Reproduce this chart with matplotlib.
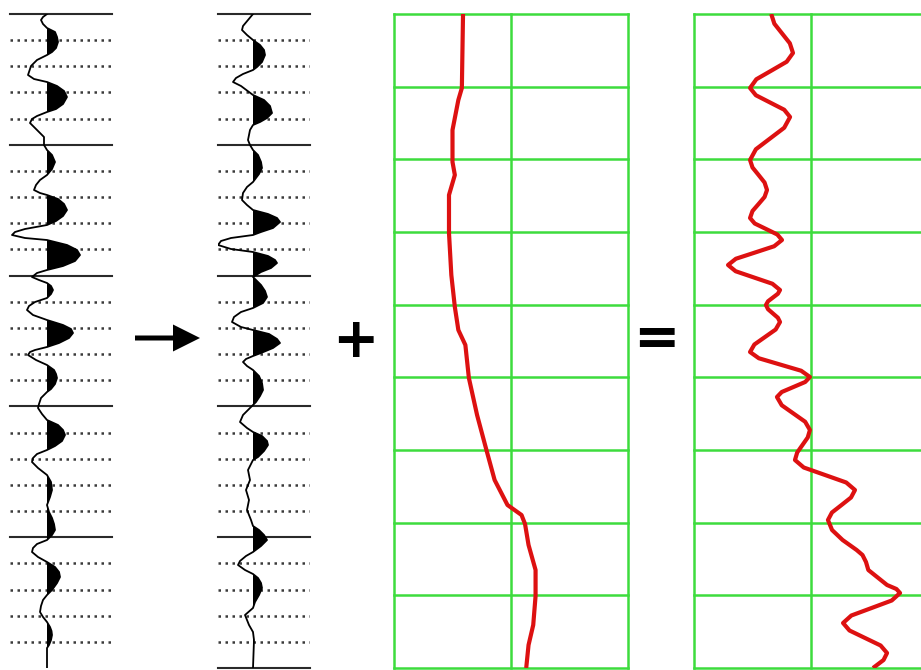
import matplotlib.pyplot as plt
from matplotlib.patches import FancyArrow
import numpy as np

# seismic trace 1 (time in ms, amplitude)
trace1_time = [0, 3, 6, 10, 14, 18, 23, 28, 34, 38, 41, 46, 52, 61, 65, 68, 72, 77, 83, 90, 95, 98,
               102, 105, 109, 116, 123, 131, 136, 141, 148, 155, 161, 166, 171, 176, 179, 181, 185,
               190, 196, 202, 207, 211, 215, 218, 221, 224, 226, 231, 236, 241, 247, 252, 256, 259,
               263, 266, 269, 272, 276, 280, 284, 288, 292, 296, 301, 306, 311, 315, 319, 324, 329,
               333, 336, 338, 341, 346, 351, 356, 360, 364, 370, 375, 378, 384, 390, 394, 400, 406,
               411, 416, 421, 427, 432, 436, 440, 444, 448, 454, 461, 468, 476, 483, 491, 498, 504,
               510, 516, 521, 526, 530, 534, 538, 543, 548, 553, 558, 563, 569, 576, 581, 586, 592,
               598, 603, 608, 613, 617, 621, 626, 631, 634, 654]
trace1_amp = [0, -4, -6, -4, 0, 8, 10, 11, 9, 5, 0, -10, -16, -19, -13, 0, 10, 17, 20, 16, 9, 0,
              -10, -15, -17, -10, -3, -3, 0, 5, 8, 5, 0, -7, -11, -13, -7, 0, 11, 17, 20, 16, 9, 0,
              -22, -32, -35, -22, 0, 20, 30, 33, 28, 16, 0, -10, -15, -8, 0, 4, 6, 4, 0, -12, -18,
              -20, -14, 0, 16, 24, 26, 22, 12, 0, -12, -17, -19, -11, 0, 7, 9, 10, 8, 4, 0, -6, -8,
              -9, -5, 0, 11, 16, 18, 15, 8, 0, -10, -14, -15, -9, 0, 4, 5, 3, 0, 2, 5, 7, 8, 5, 0,
              -10, -14, -15, -9, 0, 8, 12, 13, 10, 5, 0, -4, -6, -7, -4, 0, 3, 4.5, 5, 4, 2, 0, 0]

# seismic trace 2 (after filtering)
trace2_time = [0, 6, 12, 16, 21, 26, 31, 36, 41, 48, 53, 56, 60, 64, 68, 72, 81, 86, 92, 99, 104,
               108, 111, 116, 126, 131, 136, 141, 148, 154, 160, 168, 173, 179, 186, 191, 196, 200,
               204, 208, 214, 218, 221, 224, 227, 231, 235, 238, 242, 246, 249, 254, 258, 263, 266,
               271, 277, 283, 289, 294, 298, 303, 308, 313, 316, 320, 325, 329, 334, 339, 342, 345,
               348, 352, 356, 362, 369, 376, 382, 388, 394, 401, 408, 414, 418, 422, 427, 431, 437,
               443, 446, 456, 466, 476, 486, 496, 506, 512, 516, 521, 526, 532, 538, 542, 547, 551,
               556, 560, 564, 569, 574, 581, 588, 594, 601, 611, 618, 626, 654]
trace2_amp = [0, -5, -10, -11, -6, 0, 7, 11, 12, 9, 4, 0, -10, -17, -20, -12, 0, 11, 17, 19, 14,
              7, 0, -3, -5, -3, 0, 5, 8, 9, 6, 0, -6, -10, -11, -6, 0, 15, 24, 27, 20, 8, 0, -22,
              -32, -35, -22, 0, 15, 22, 24, 18, 8, 0, 3, 8, 12, 14, 10, 0, -12, -19, -21, -12, 0,
              16, 24, 27, 20, 8, 0, -7, -10, -6, 0, 6, 9, 10, 7, 3, -3, -10, -13, -6, 0, 9, 14, 15,
              11, 5, 0, -5, -3, -7, -4, -6, -2, 0, 6, 11, 14, 8, 0, -7, -13, -15, -8, 0, 5, 8, 9, 6,
              2, 0, -8, -4, 0, 1, 0]

# low frequency trend
trend_time = [0, 74, 86, 116, 148, 161, 181, 219, 261, 293, 316, 331, 364, 401, 436, 466, 491,
              501, 510, 531, 556, 582, 611, 631, 654]
trend_value = [0.59, 0.58, 0.55, 0.50, 0.50, 0.52, 0.47, 0.47, 0.49, 0.52, 0.55, 0.61, 0.64, 0.71,
               0.79, 0.86, 0.97, 1.09, 1.12, 1.15, 1.21, 1.21, 1.19, 1.15, 1.13]

# sum of trend and filtered trace
sum_time = [0, 9.75, 19.5, 29.25, 39, 47.75, 56.5, 65.25, 74, 81.25, 88.5, 95.75, 103, 113.75,
            124.5, 135.25, 146, 153.5, 161, 168.5, 176, 183, 190, 197, 204, 209.5, 215, 220.5,
            226, 232.25, 238.5, 244.75, 251, 257.25, 263.5, 269.75, 276, 279.75, 283.5, 287.25,
            291, 295.25, 299.5, 303.75, 308, 315.5, 323, 330.5, 338, 344.25, 350.5, 356.75, 363,
            368, 373, 378, 383, 391.25, 399.5, 407.75, 416, 423.5, 431, 438.5, 446, 453.5, 461,
            468.5, 476, 483.5, 491, 498.5, 506, 516, 526, 536, 541, 548, 556, 571, 575, 579,
            586.5, 594, 601.5, 609, 616.5, 624, 631.5, 639, 646, 654]
sum_value = [0.66, 0.687, 0.753, 0.819, 0.846, 0.792, 0.663, 0.533, 0.479, 0.529, 0.650, 0.771,
             0.821, 0.771, 0.650, 0.529, 0.479, 0.500, 0.552, 0.603, 0.624, 0.603, 0.552, 0.500,
             0.479, 0.519, 0.616, 0.712, 0.752, 0.685, 0.522, 0.358, 0.291, 0.356, 0.513, 0.670,
             0.735, 0.717, 0.675, 0.633, 0.615, 0.633, 0.675, 0.717, 0.735, 0.698, 0.607, 0.516,
             0.479, 0.554, 0.735, 0.916, 0.991, 0.950, 0.850, 0.750, 0.709, 0.750, 0.850, 0.950,
             0.991, 0.972, 0.927, 0.882, 0.863, 0.938, 1.120, 1.301, 1.376, 1.342, 1.261, 1.179,
             1.145, 1.18, 1.27, 1.39, 1.44, 1.47, 1.49, 1.65, 1.73, 1.761, 1.690, 1.518, 1.345,
             1.274, 1.329, 1.462, 1.595, 1.650, 1.62, 1.53]

W, H = 921, 670
fig = plt.figure(figsize=(W / 100, H / 100), dpi=100)
fig.patch.set_facecolor('white')

def px_axes(x0, x1, y0, y1):
    return fig.add_axes([x0 / W, (H - y1) / H, (x1 - x0) / W, (y1 - y0) / H])

tmax = 654
solid_t = np.linspace(0, tmax, 6)
dot_t = [k * tmax / 25 for k in range(1, 25) if k % 5 != 0]

def draw_trace(ax, t, a, left, right, bottom_line):
    for y in dot_t:
        ax.plot([left, right], [y, y], color='#3a3a3a', lw=1.8, ls=(0, (1, 1.8)),
                solid_capstyle='butt', dash_capstyle='butt', zorder=1)
    lines = solid_t if bottom_line else solid_t[:-1]
    for y in lines:
        ax.plot([left, right], [y, y], color='#2a2a2a', lw=1.5, zorder=2, clip_on=False)
    t = np.array(t, float)
    a = np.array(a, float)
    ax.fill_betweenx(t, 0, a, where=a > 0, interpolate=True, color='black', lw=0, zorder=3)
    ax.plot(a, t, color='black', lw=1.3, zorder=4, solid_joinstyle='round')
    ax.set_xlim(left, right)
    ax.set_ylim(tmax, 0)
    ax.axis('off')

ax1 = px_axes(10, 112, 14, 668)
draw_trace(ax1, trace1_time, trace1_amp, -37, 65, False)
ax2 = px_axes(218, 310, 14, 668)
draw_trace(ax2, trace2_time, trace2_amp, -35, 57, True)

green = '#3ddc3d'
red = '#dd1111'

def draw_log(ax, t, v):
    for y in np.linspace(0, tmax, 10):
        ax.plot([0, 2], [y, y], color=green, lw=1.8, clip_on=False, zorder=1)
    for x in [0, 1, 2]:
        ax.plot([x, x], [0, tmax], color=green, lw=1.8, clip_on=False, zorder=1)
    ax.plot(v, t, color=red, lw=3.0, solid_joinstyle='round', solid_capstyle='butt', zorder=3)
    ax.set_xlim(0, 2)
    ax.set_ylim(tmax, 0)
    ax.axis('off')

ax3 = px_axes(394, 628, 14, 668)
draw_log(ax3, trend_time, trend_value)
ax4 = px_axes(694, 928, 14, 668)
draw_log(ax4, sum_time, sum_value)

# operators between panels
ov = fig.add_axes([0, 0, 1, 1], zorder=-1)
ov.set_xlim(0, W)
ov.set_ylim(H, 0)
ov.axis('off')
ov.add_patch(FancyArrow(135, 338, 65, 0, width=5, head_width=27, head_length=27,
                        length_includes_head=True, color='black', lw=0))
fig.text(355 / W, 1 - 342 / H, '+', fontsize=40, fontweight='bold', ha='center', va='center')
fig.text(656 / W, 1 - 340 / H, '=', fontsize=40, fontweight='bold', ha='center', va='center')

fig.savefig('out.png', dpi=100)
